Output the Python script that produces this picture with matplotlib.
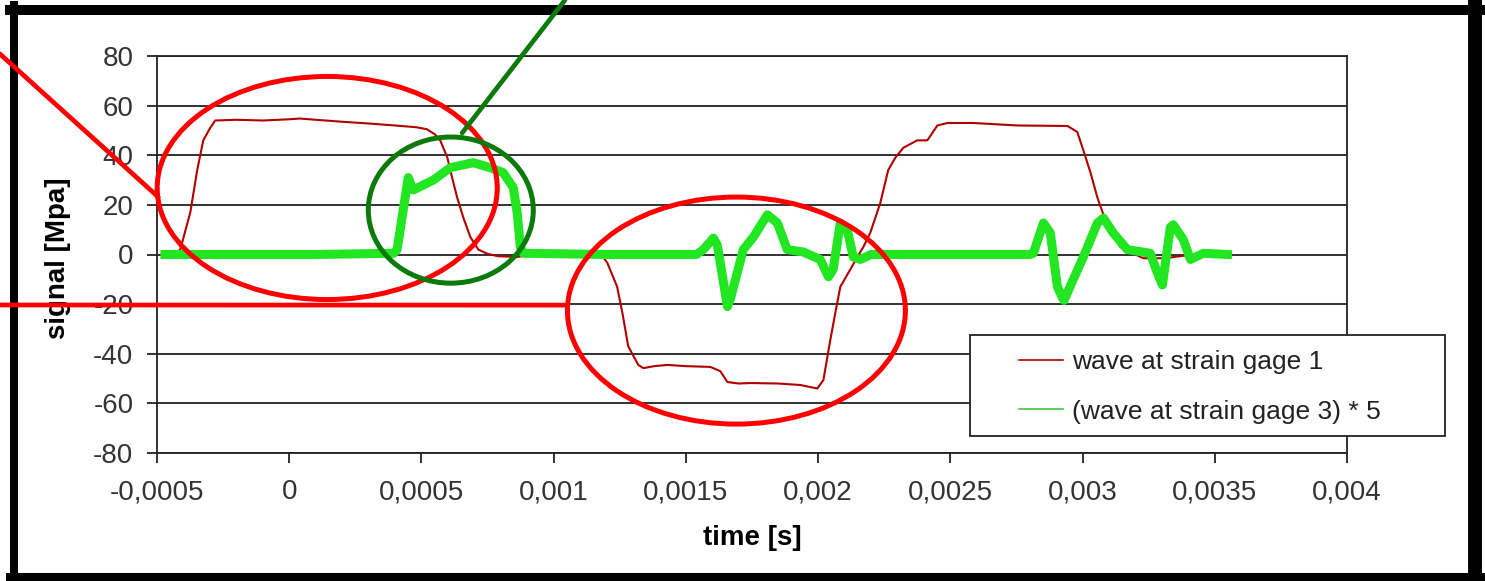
import matplotlib
matplotlib.use("Agg")
import matplotlib.pyplot as plt
from matplotlib.patches import Ellipse, Rectangle, ConnectionPatch
from matplotlib.lines import Line2D
from matplotlib.ticker import FixedLocator, FuncFormatter

plt.rcParams["font.family"] = ["Liberation Sans", "DejaVu Sans"]
plt.rcParams["axes.unicode_minus"] = False

# wave at strain gage 1 (time in s, signal in Mpa)
t_gage1 = [-0.00047, -0.00043, -0.000412, -0.000374, -0.000348, -0.000325, -0.000299, -0.00028,
           -0.0002, -0.0001, 0.0, 0.00004, 0.0001, 0.0002, 0.0003, 0.0004, 0.00048, 0.00052,
           0.00055, 0.000571, 0.000598, 0.000616, 0.000635, 0.000658, 0.000685, 0.000715,
           0.000749, 0.00079, 0.000862, 0.0009, 0.00115, 0.00118, 0.001203, 0.00124, 0.00126,
           0.001282, 0.00132, 0.001339, 0.00138, 0.00143, 0.0015, 0.001592, 0.00163, 0.001657,
           0.0017, 0.001744, 0.00185, 0.001933, 0.001997, 0.00202, 0.002046, 0.002065, 0.002084,
           0.002122, 0.002148, 0.002171, 0.002197, 0.002235, 0.002265, 0.002292, 0.002322,
           0.002375, 0.002413, 0.002451, 0.002489, 0.002587, 0.002753, 0.002943, 0.00298,
           0.003003, 0.00303, 0.003056, 0.003079, 0.003105, 0.003143, 0.0032, 0.00323, 0.003313,
           0.003381, 0.003445, 0.0035]
sig_gage1 = [0, 0.3, 2, 17, 34, 46, 51, 54,
             54.3, 54, 54.5, 54.8, 54.3, 53.5, 52.8, 52, 51.3, 50.5,
             48.5, 46, 39, 31, 23, 15, 7, 2,
             0.3, -0.7, -1, -0.3, 0, 0, -3.4, -13, -23.6,
             -37, -44.5, -45.8, -45, -44.5, -45, -45.3, -47, -51.4,
             -52, -51.8, -52, -52.6, -54, -50.6, -34.5, -23.6, -13,
             -6, -1, 3, 8.7, 20.7, 34, 39, 43,
             46, 46, 52, 53, 53, 52, 51.8, 49.4,
             42, 33, 23, 16, 9, 3, 0, -1.5, -1.5,
             -0.5, 0, 0]

# (wave at strain gage 3) * 5
t_gage3 = [-0.00047, -0.0002, 0.0001, 0.000395, 0.000408, 0.00045, 0.000469, 0.000545, 0.000609,
           0.000696, 0.00076, 0.000809, 0.000847, 0.000862, 0.000874, 0.000885, 0.0012, 0.00154,
           0.001566, 0.001604, 0.001619, 0.001657, 0.001668, 0.001717, 0.001755, 0.001808,
           0.001846, 0.001883, 0.001944, 0.002008, 0.002039, 0.002057, 0.002084, 0.00211,
           0.002133, 0.00216, 0.0022, 0.0025, 0.0028, 0.002814, 0.002852, 0.002878, 0.002905,
           0.002924, 0.00293, 0.002965, 0.003003, 0.003056, 0.003079, 0.003116, 0.003169,
           0.003256, 0.003283, 0.003302, 0.003332, 0.003343, 0.003381, 0.003408, 0.003457,
           0.003548]
sig_gage3 = [0, 0, 0, 0.5, 2, 31, 26, 30, 35,
             37, 35, 33, 27, 17, 3, 0.5, 0, 0,
             2, 6.6, 3.8, -21, -18, 2, 7, 16,
             12.7, 2, 1, -2, -9, -6, 12.7, 10,
             -1, -2, 0, 0, 0, 0.5, 12.7, 8.7, -13,
             -17.5, -18.5, -10, -1, 12.7, 14.7, 8.7, 2,
             0.5, -7.5, -12.3, 11, 12, 6, -2, 0.5,
             0]

labels = ["wave at strain gage 1", "(wave at strain gage 3) * 5"]
x_ticks = [-0.0005, 0, 0.0005, 0.001, 0.0015, 0.002, 0.0025, 0.003, 0.0035, 0.004]
y_ticks = [-80, -60, -40, -20, 0, 20, 40, 60, 80]

RED = "#b00000"
GREEN = "#22e622"

W, H = 1485, 581
fig = plt.figure(figsize=(W / 100, H / 100), dpi=100)
ax = fig.add_axes([157 / W, 1 - 453 / H, 1190 / W, 397 / H])

ax.plot(t_gage1, sig_gage1, color=RED, lw=1.5, zorder=3)
ax.plot(t_gage3, sig_gage3, color=GREEN, lw=6.5, zorder=4)

ax.set_xlim(x_ticks[0], x_ticks[-1])
ax.set_ylim(y_ticks[0], y_ticks[-1])
ax.xaxis.set_major_locator(FixedLocator(x_ticks))
ax.yaxis.set_major_locator(FixedLocator(y_ticks))
ax.xaxis.set_major_formatter(FuncFormatter(lambda v, p: f"{round(v, 6):g}".replace(".", ",") if abs(v) > 1e-9 else "0"))
ax.yaxis.grid(True, color="#222222", lw=1.3)
ax.set_axisbelow(True)
for s in ax.spines.values():
    s.set_color("#222222")
    s.set_linewidth(1.3)
ax.tick_params(axis="both", direction="out", length=7, width=1.3, labelsize=20, colors="#222222")
ax.tick_params(axis="y", pad=10)
ax.tick_params(axis="x", pad=12)
for lab in ax.get_xticklabels() + ax.get_yticklabels():
    lab.set_color("#333333")

ax.set_xlabel("time [s]", fontsize=20, fontweight="bold", labelpad=14)
ax.set_ylabel("signal [Mpa]", fontsize=20, fontweight="bold")
ax.yaxis.set_label_coords(-0.072, 0.49)

# legend with its own frame
handles = [Line2D([], [], color=RED, lw=1.2), Line2D([], [], color="#3ec83e", lw=1.2)]
fig.add_artist(Rectangle((970 / W, 1 - 436 / H), 475 / W, 101 / H, transform=fig.transFigure,
                         fill=True, fc="white", ec="#222222", lw=1.3, zorder=6))
leg = fig.legend(handles, labels, loc="center left", bbox_to_anchor=(1006 / W, 1 - 387 / H),
                 frameon=False, borderpad=0, handlelength=1.65, handletextpad=0.35,
                 labelspacing=0.95, fontsize=19)
leg.set_zorder(7)
for txt in leg.get_texts():
    txt.set_color("#222222")

# red and green marks over the chart
ax.add_patch(Ellipse((0.0001437, 26.8), 0.001286, 89.9, fill=False, ec="red", lw=3.6,
                     clip_on=False, zorder=8))
ax.add_patch(Ellipse((0.001691, -22.6), 0.001278, 91.5, fill=False, ec="red", lw=3.6,
                     clip_on=False, zorder=8))
ax.add_patch(Ellipse((0.000611, 17.9), 0.000624, 58.9, fill=False, ec="#0a7a0a", lw=3.6,
                     clip_on=False, zorder=8))
fig.add_artist(ConnectionPatch(xyA=(0, 1 - 54 / H), coordsA=fig.transFigure,
                               xyB=(-0.0004955, 23.2), coordsB=ax.transData,
                               color="red", lw=3.4, zorder=9))
fig.add_artist(ConnectionPatch(xyA=(0, 1 - 305 / H), coordsA=fig.transFigure,
                               xyB=(0.001051, -20.4), coordsB=ax.transData,
                               color="red", lw=3.4, zorder=9))
fig.add_artist(ConnectionPatch(xyA=(565 / W, 1.0), coordsA=fig.transFigure,
                               xyB=(0.000654, 49.0), coordsB=ax.transData,
                               color="#0a7a0a", lw=3.4, zorder=9))

# black frame round the picture
fig.add_artist(Line2D([10 / W, 1482 / W], [1 - 10 / H, 1 - 10 / H], transform=fig.transFigure,
                      color="black", lw=7.2, zorder=2))
fig.add_artist(Line2D([14 / W, 14 / W], [1 - 5 / H, 0], transform=fig.transFigure,
                      color="black", lw=5.8, zorder=2))
fig.add_artist(Line2D([1475 / W, 1475 / W], [1 - 5 / H, 0], transform=fig.transFigure,
                      color="black", lw=10, zorder=2))
fig.add_artist(Line2D([10 / W, 1482 / W], [4.5 / H, 4.5 / H], transform=fig.transFigure,
                      color="black", lw=5.8, zorder=2))

fig.savefig("out.png", dpi=100)
